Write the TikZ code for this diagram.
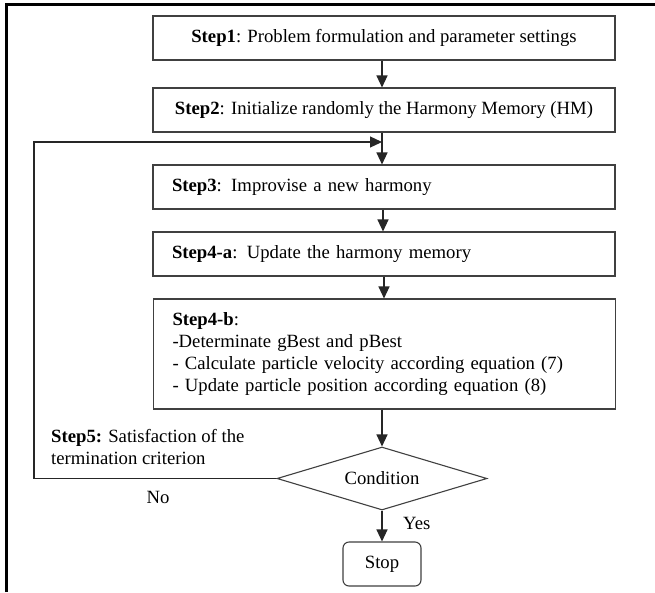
\documentclass[tikz,border=0pt]{standalone}
\usepackage{fontspec}
\setmainfont{Liberation Serif}
\usetikzlibrary{arrows.meta,shapes.geometric}
\begin{document}
\begin{tikzpicture}[x=1pt,y=-1pt,
  every node/.style={font=\fontsize{18.7}{22}\selectfont},
  stepbox/.style={draw=black!75, line width=1.1pt, minimum width=462pt, inner xsep=19pt, inner ysep=0pt},
  lbox/.style={stepbox, align=left, text width=424pt},
  cbox/.style={stepbox, align=center},
  conn/.style={draw=black!85, line width=1.2pt},
  arr/.style={conn, -{Triangle[length=12pt,width=11pt]}},
  cond/.style={draw=black!75, line width=1.1pt, diamond, aspect=3.33, minimum width=210pt, minimum height=63pt, inner sep=0pt},
  stopbox/.style={draw=black!75, line width=1.1pt, rounded corners=6pt, minimum width=78pt, minimum height=44pt},
  lab/.style={inner sep=0pt, align=left}]
\useasboundingbox (0,0) rectangle (655,592);
\fill[white] (0,0) rectangle (655,592);
% outer frame
\draw[line width=3pt] (6.5,592) -- (6.5,4.5) -- (655,4.5);

\node[cbox, minimum height=44pt] (s1) at (384,38) {\textbf{Step1}: Problem formulation and parameter settings};
\node[cbox, minimum height=44pt] (s2) at (384,110) {\textbf{Step2}: Initialize randomly the Harmony Memory (HM)};
\node[lbox, minimum height=44pt] (s3) at (384,187) {\textbf{Step3}: Improvise a new harmony};
\node[lbox, minimum height=44pt] (s4a) at (384,254) {\textbf{Step4-a}: Update the harmony memory};
\node[lbox, minimum height=110pt] (s4b) at (384.5,354) {\textbf{Step4-b}:\\-Determinate gBest and pBest\\- Calculate particle velocity according equation (7)\\- Update particle position according equation (8)};
\node[cond] (c) at (382,478.5) {Condition};
\node[stopbox] (stop) at (382,564) {Stop};

\node[lab, anchor=west] (s5) at (51,447) {\textbf{Step5:} Satisfaction of the\\termination criterion};
\node[lab] (no) at (158,497) {No};
\node[lab, anchor=west] (yes) at (403,523) {Yes};

\coordinate (j) at (382,142);
\coordinate (lc) at (34,478.5);

\draw[arr] (s1.south -| 382,0) -- (s2.north -| 382,0);
\draw[arr] (s2.south -| 382,0) -- (s3.north -| 382,0);
\draw[arr] (s3.south -| 383,0) -- (s4a.north -| 383,0);
\draw[arr] (s4a.south -| 384,0) -- (s4b.north -| 384,0);
\draw[arr] (s4b.south -| 382,0) -- (c.north);
\draw[arr] (c.south) -- (stop.north);
\draw[arr] (c.west) -- (lc) |- (j);
\end{tikzpicture}
\end{document}
